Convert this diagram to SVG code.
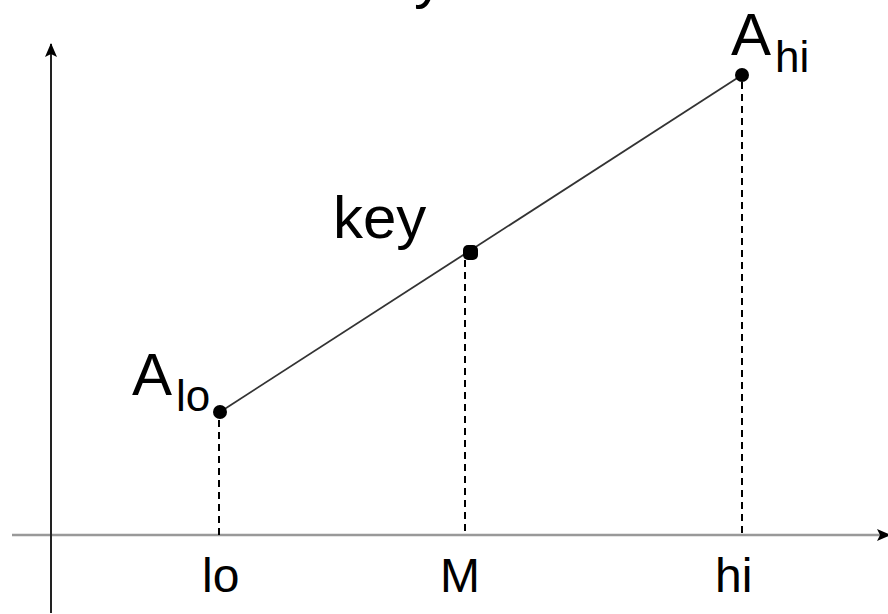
<svg xmlns="http://www.w3.org/2000/svg" width="888" height="614" viewBox="0 0 888 614">
<style>
.t{font-family:"Liberation Sans",Arial,sans-serif;fill:#000}
.dash{stroke:#000;stroke-width:2;stroke-dasharray:7 5;fill:none}
.pt{fill:#000}
</style>
<defs>
<marker id="ah" viewBox="0 0 14 12" refX="13" refY="6" markerWidth="14" markerHeight="12" markerUnits="userSpaceOnUse" orient="auto">
<path d="M0,0 L14,6 L0,12 L3,6 Z" fill="#000"/>
</marker>
</defs>
<rect width="888" height="614" fill="#fff"/>
<g id="connectors">
<line x1="12" y1="535" x2="890" y2="535" stroke="#999" stroke-width="2.5" marker-end="url(#ah)"/>
<line x1="51" y1="613" x2="51" y2="44" stroke="#222" stroke-width="2" marker-end="url(#ah)"/>
<line x1="220" y1="412" x2="742" y2="75" stroke="#333" stroke-width="1.8"/>
<line class="dash" x1="219" y1="420" x2="219" y2="535"/>
<line class="dash" x1="465" y1="260" x2="465" y2="535"/>
<line class="dash" x1="742" y1="82" x2="742" y2="535"/>
</g>
<g id="axis-y-label"><text class="t" x="414" y="-3" font-size="60">y</text></g>
<g id="A_lo">
<circle class="pt" cx="220" cy="412" r="7"/>
<text class="t" x="132" y="395" font-size="60">A</text>
<text class="t" x="176" y="411" font-size="44">lo</text>
</g>
<g id="key">
<rect class="pt" x="463" y="245" width="15" height="15" rx="5"/>
<text class="t" x="333" y="238" font-size="60">key</text>
</g>
<g id="A_hi">
<circle class="pt" cx="742" cy="75" r="7"/>
<text class="t" x="731" y="55" font-size="60">A</text>
<text class="t" x="775" y="72" font-size="44">hi</text>
</g>
<g id="ticks">
<text class="t" x="202" y="592" font-size="48">lo</text>
<text class="t" x="440" y="592" font-size="48">M</text>
<text class="t" x="715" y="592" font-size="48">hi</text>
</g>
</svg>
